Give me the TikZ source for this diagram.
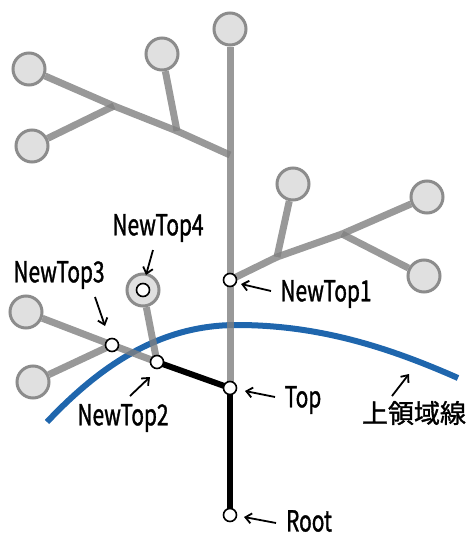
\documentclass[tikz,border=0pt]{standalone}
\usepackage{fontspec}
\usetikzlibrary{arrows.meta}
\newfontfamily\latlab[FakeStretch=0.72,FakeBold=1.2]{Noto Sans CJK JP}
\newfontfamily\jplab[FakeBold=1.2]{Noto Sans CJK JP}
\definecolor{curveblue}{HTML}{1F66AD}
\definecolor{leaffill}{HTML}{E0E0E0}
\tikzset{
  branch/.style={draw=gray, opacity=0.8, line width=7pt},
  rootline/.style={draw=black, line width=6pt},
  leaf/.style={circle, draw=gray!90, fill=leaffill, line width=3pt, minimum size=32pt, inner sep=0pt},
  topnode/.style={circle, draw=black, fill=white, line width=1.6pt, minimum size=13pt, inner sep=0pt},
  lab/.style={font=\fontsize{29}{32}\selectfont\latlab, inner sep=0pt},
  jlab/.style={font=\fontsize{26}{30}\selectfont\jplab, inner sep=0pt},
  pointer/.style={draw=black, line width=1.8pt, -{Straight Barb[length=6pt,width=10pt,line width=1.8pt]}},
  bluecurve/.style={draw=curveblue, line width=6pt}
}
\begin{document}
\begin{tikzpicture}[x=1pt,y=-1pt]
\useasboundingbox (0,0) rectangle (472,536);
% coordinates
\coordinate (root) at (230,515);
\coordinate (top) at (230,388);
\coordinate (nt1) at (230,280);
\coordinate (nt2) at (157,362);
\coordinate (nt3) at (112,345);
\coordinate (nt4) at (143,290);
\coordinate (jul) at (230,155);
\coordinate (ju2) at (177,131);
\coordinate (ju1) at (114,106);
\coordinate (ja) at (277,257);
\coordinate (jb) at (342,234);
% leaves
\node[leaf] (ltop) at (230,29) {};
\node[leaf] (lul1) at (29,69) {};
\node[leaf] (lul2) at (32,146) {};
\node[leaf] (l3) at (162,54) {};
\node[leaf] (la) at (293,184) {};
\node[leaf] (lb) at (427,197) {};
\node[leaf] (lc) at (424,276) {};
\node[leaf] (ll1) at (26,312) {};
\node[leaf] (ll2) at (33,382) {};
\node[leaf] (l4) at (143,290) {};
% blue curve
\draw[bluecurve] (47,422) .. controls (110,355) and (170,325) .. (237,325)
  .. controls (320,325) and (390,348) .. (458,378);
% gray branches
\draw[branch] (top) -- (nt1);
\draw[branch] (nt1) -- (jul);
\draw[branch] (jul) -- (ltop);
\draw[branch] (nt1) -- (ja);
\draw[branch] (ja) -- (jb);
\draw[branch] (jb) -- (lb);
\draw[branch] (ja) -- (la);
\draw[branch] (jb) -- (lc);
\draw[branch] (jul) -- (ju2);
\draw[branch] (ju2) -- (ju1);
\draw[branch] (ju1) -- (lul1);
\draw[branch] (ju1) -- (lul2);
\draw[branch] (ju2) -- (l3);
\draw[branch] (nt2) -- (nt3);
\draw[branch] (nt3) -- (ll1);
\draw[branch] (nt3) -- (ll2);
\draw[branch] (nt2) -- (l4);
% black path
\draw[rootline] (root) -- (top);
\draw[rootline] (top) -- (nt2);
% small nodes
\node[topnode] (Root) at (root) {};
\node[topnode] (Top) at (top) {};
\node[topnode] (NT1) at (nt1) {};
\node[topnode] (NT2) at (nt2) {};
\node[topnode] (NT3) at (nt3) {};
\node[topnode] (NT4) at (nt4) {};
% labels
\node[lab] (tNT4) at (158,228) {NewTop4};
\node[lab] (tNT3) at (59,275) {NewTop3};
\node[lab] (tNT2) at (123,418) {NewTop2};
\node[lab] (tNT1) at (326,294) {NewTop1};
\node[lab] (tTop) at (303,400) {Top};
\node[lab] (tRoot) at (309,521) {Root};
\node[jlab] (tUL) at (414,413) {上領域線};
% pointer coordinates
\coordinate (p4a) at (153,250); \coordinate (p4b) at (146,275);
\coordinate (p3a) at (95,297);  \coordinate (p3b) at (105,326);
\coordinate (p2a) at (130,396); \coordinate (p2b) at (150,377);
\coordinate (p1a) at (271,291); \coordinate (p1b) at (241,284);
\coordinate (pta) at (275,397); \coordinate (ptb) at (245,391);
\coordinate (pra) at (276,523); \coordinate (prb) at (244,517);
\coordinate (pua) at (392,396); \coordinate (pub) at (409,374);
\draw[pointer] (p4a) -- (p4b);
\draw[pointer] (p3a) -- (p3b);
\draw[pointer] (p2a) -- (p2b);
\draw[pointer] (p1a) -- (p1b);
\draw[pointer] (pta) -- (ptb);
\draw[pointer] (pra) -- (prb);
\draw[pointer] (pua) -- (pub);
\end{tikzpicture}
\end{document}
